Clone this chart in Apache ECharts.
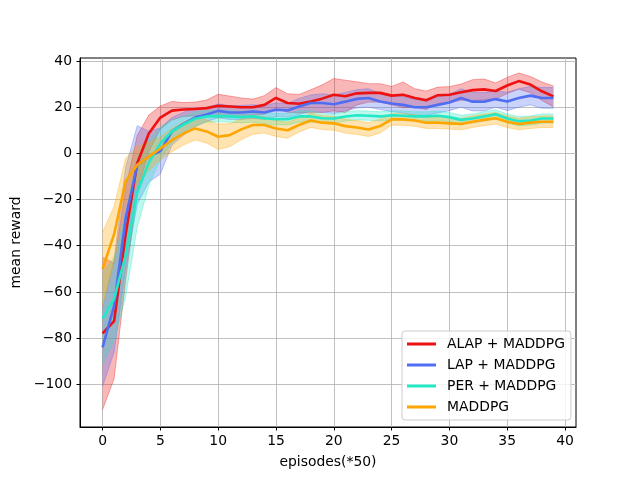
<!DOCTYPE html>
<html>
<head>
<meta charset="utf-8">
<script src="https://cdn.jsdelivr.net/npm/echarts@6/dist/echarts.min.js"></script>
<style>
html,body{margin:0;padding:0;background:#fff;}
#main{width:640px;height:480px;}
</style>
</head>
<body>
<div id="main"></div>
<script>
var names = ['ALAP + MADDPG', 'LAP + MADDPG', 'PER + MADDPG', 'MADDPG'];
var colors = ['#ee1111', '#4f6ef2', '#22e8c6', '#ffa500'];
var xTicks = [0, 5, 10, 15, 20, 25, 30, 35, 40];
var yTicks = [-100, -80, -60, -40, -20, 0, 20, 40];

// mean reward per 50 episodes
var alapMean = [-78, -72.6, -35, -4.3, 8.6, 15.5, 18.5, 19, 19.2, 19.6, 20.6, 20.3, 20, 20, 21, 24, 21.8, 21.5, 22.5, 23.7,
	25.4, 24.7, 26, 26.2, 26.2, 25, 25.4, 24, 23, 25.2, 25.4, 26.5, 27.4, 27.7, 27, 29.4, 31.3, 29.8, 26.9, 24.7];
var lapMean = [-84, -66, -28, -5, -1.4, 1, 9.5, 12.8, 15.5, 16.8, 18.4, 17.7, 17.7, 18.1, 17.7, 18.9, 18.6, 20.3, 21.8, 21.8,
	21.3, 22.4, 23.6, 24, 22.5, 21.6, 21, 20, 20, 21, 22, 24, 22.4, 22.4, 23.5, 22.5, 24, 25, 24, 24];
var perMean = [-71.5, -63, -44, -17, -4, 4.3, 9.5, 12.5, 15, 16, 16.2, 16, 15.7, 16, 15.2, 14.8, 14.8, 16, 16, 15.2,
	15.1, 16, 16.5, 16.3, 16, 16.5, 16.3, 16, 16, 16.3, 15.7, 14.5, 15.1, 16, 16.9, 15.1, 13.9, 14.2, 15.1, 15.1];
var maddpgMean = [-50, -35, -12, -5, -1.4, 2.1, 5.7, 8.6, 10.8, 9.5, 7.2, 7.9, 10.4, 12.3, 12.3, 10.8, 10, 12.3, 14.2, 13.3,
	13, 11.8, 11.2, 10.3, 11.8, 14.7, 14.7, 14.2, 13.3, 13.3, 13, 12.7, 13.7, 14.5, 15.2, 13.7, 12.7, 13.3, 13.7, 13.7];

// half width of the shaded band
var alapStd = [33, 25, 20, 12, 8, 5, 4, 3, 3, 3.5, 5, 4.5, 4, 3.5, 4, 4.5, 4, 4, 5, 6,
	7, 7, 5, 4, 4, 4, 5.5, 4, 4, 3.5, 3.5, 3.5, 4.5, 4.5, 3.5, 3.5, 3.5, 3.5, 4, 4.5];
var lapStd = [17, 20, 22, 17, 11, 10, 6, 5, 4, 3, 3, 3, 3, 3, 3, 3, 3, 3.5, 3.5, 4,
	4, 4, 4, 4, 3.5, 3.5, 3.5, 3.5, 3.5, 3.5, 3.5, 4, 4, 4, 3.5, 4, 4, 4, 4.5, 4.5];
var perStd = [20, 18, 18, 15, 10, 7, 5, 3.5, 3, 2.5, 2.5, 2.5, 2.5, 2.5, 2.5, 2.5, 2.5, 2.5, 2.5, 2,
	2, 2, 2, 2, 2, 2, 2, 2, 2, 2, 2, 2, 2, 2, 2, 2, 2, 2, 2, 2];
var maddpgStd = [16, 12, 10, 8, 6, 5, 5, 5, 5, 5, 5.5, 5, 4.5, 4, 3.5, 3.5, 3.5, 3, 3, 3,
	3, 3, 3, 3, 3, 2.5, 2.5, 2.5, 2.5, 2.5, 2.5, 2.5, 2.5, 2.5, 2.5, 2.5, 2.5, 2.5, 2.5, 2.5];

var means = [alapMean, lapMean, perMean, maddpgMean];
var stds = [alapStd, lapStd, perStd, maddpgStd];

function minus(v){
	return String(v).replace('-', '\u2212');
}

// shaded band (mean +- std) drawn as one polygon through the axis scale
function band(k){
	var rows = [];
	for (var i = 0; i < means[k].length; i++) {
		rows.push([i, means[k][i] - stds[k][i], means[k][i] + stds[k][i]]);
	}
	return {
		type : 'custom',
		name : 'band' + k,
		data : rows,
		silent : true,
		z : 1,
		clip : true,
		renderItem : function(params, api) {
			if (params.dataIndex !== 0) return null;
			var top = [], bottom = [];
			for (var j = 0; j < rows.length; j++) {
				top.push(api.coord([rows[j][0], rows[j][2]]));
				bottom.push(api.coord([rows[j][0], rows[j][1]]));
			}
			var poly = top.concat(bottom.slice().reverse());
			return {
				type : 'group',
				children : [ {
					type : 'polygon',
					shape : { points : poly },
					style : { fill : colors[k], opacity : 0.3 }
				}, {
					type : 'polyline',
					shape : { points : top },
					style : { stroke : colors[k], fill : null, lineWidth : 1, opacity : 0.35 }
				}, {
					type : 'polyline',
					shape : { points : bottom },
					style : { stroke : colors[k], fill : null, lineWidth : 1, opacity : 0.35 }
				} ]
			};
		}
	};
}

var series = [];
for (var k = 0; k < 4; k++) {
	series.push(band(k));
}
for (var k = 0; k < 4; k++) {
	var pts = [];
	for (var i = 0; i < means[k].length; i++) pts.push([i, means[k][i]]);
	series.push({
		name : names[k],
		type : 'line',
		data : pts,
		symbol : 'none',
		lineStyle : { color : colors[k], width : 2.6 },
		itemStyle : { color : colors[k] },
		z : 3
	});
}

var font = 'DejaVu Sans';
var myChart = echarts.init(document.getElementById('main'));
var option = {
	animation : false,
	backgroundColor : '#fff',
	textStyle : { fontFamily : font },
	grid : {
		left : 80,
		right : 64,
		top : 58,
		bottom : 53,
		show : true,
		borderColor : '#000',
		borderWidth : 1,
		backgroundColor : 'transparent'
	},
	legend : {
		data : names,
		orient : 'vertical',
		left : 402,
		top : 331,
		padding : [5, 6, 5, 5],
		itemGap : 5,
		itemWidth : 29,
		itemHeight : 3,
		icon : 'rect',
		backgroundColor : 'rgba(255,255,255,0.8)',
		borderColor : '#cccccc',
		borderWidth : 1,
		borderRadius : 3,
		textStyle : {
			fontFamily : font,
			fontSize : 13.9,
			color : '#000',
			lineHeight : 16,
			padding : [0, 0, 0, 6]
		}
	},
	xAxis : {
		type : 'value',
		min : -1.95,
		max : 40.95,
		name : 'episodes(*50)',
		nameLocation : 'middle',
		nameGap : 28,
		nameTextStyle : { fontFamily : font, fontSize : 13.9, color : '#000' },
		axisLine : { show : true, onZero : false, lineStyle : { color : '#000', width : 1 } },
		axisTick : { show : true, length : 3.5, customValues : xTicks, lineStyle : { color : '#000' } },
		axisLabel : { customValues : xTicks, margin : 7, fontSize : 13.9, color : '#000', fontFamily : font, formatter : minus },
		splitLine : { show : true, lineStyle : { color : '#b0b0b0', width : 0.8 } }
	},
	yAxis : {
		type : 'value',
		min : -118.5,
		max : 41.3,
		name : 'mean reward',
		nameLocation : 'middle',
		nameGap : 50,
		nameTextStyle : { fontFamily : font, fontSize : 13.9, color : '#000' },
		axisLine : { show : true, onZero : false, lineStyle : { color : '#000', width : 1 } },
		axisTick : { show : true, length : 3.5, customValues : yTicks, lineStyle : { color : '#000' } },
		axisLabel : { customValues : yTicks, margin : 8, fontSize : 13.9, color : '#000', fontFamily : font, formatter : minus },
		splitLine : { show : true, lineStyle : { color : '#b0b0b0', width : 0.8 } }
	},
	series : series
};
myChart.setOption(option);
</script>
</body>
</html>
